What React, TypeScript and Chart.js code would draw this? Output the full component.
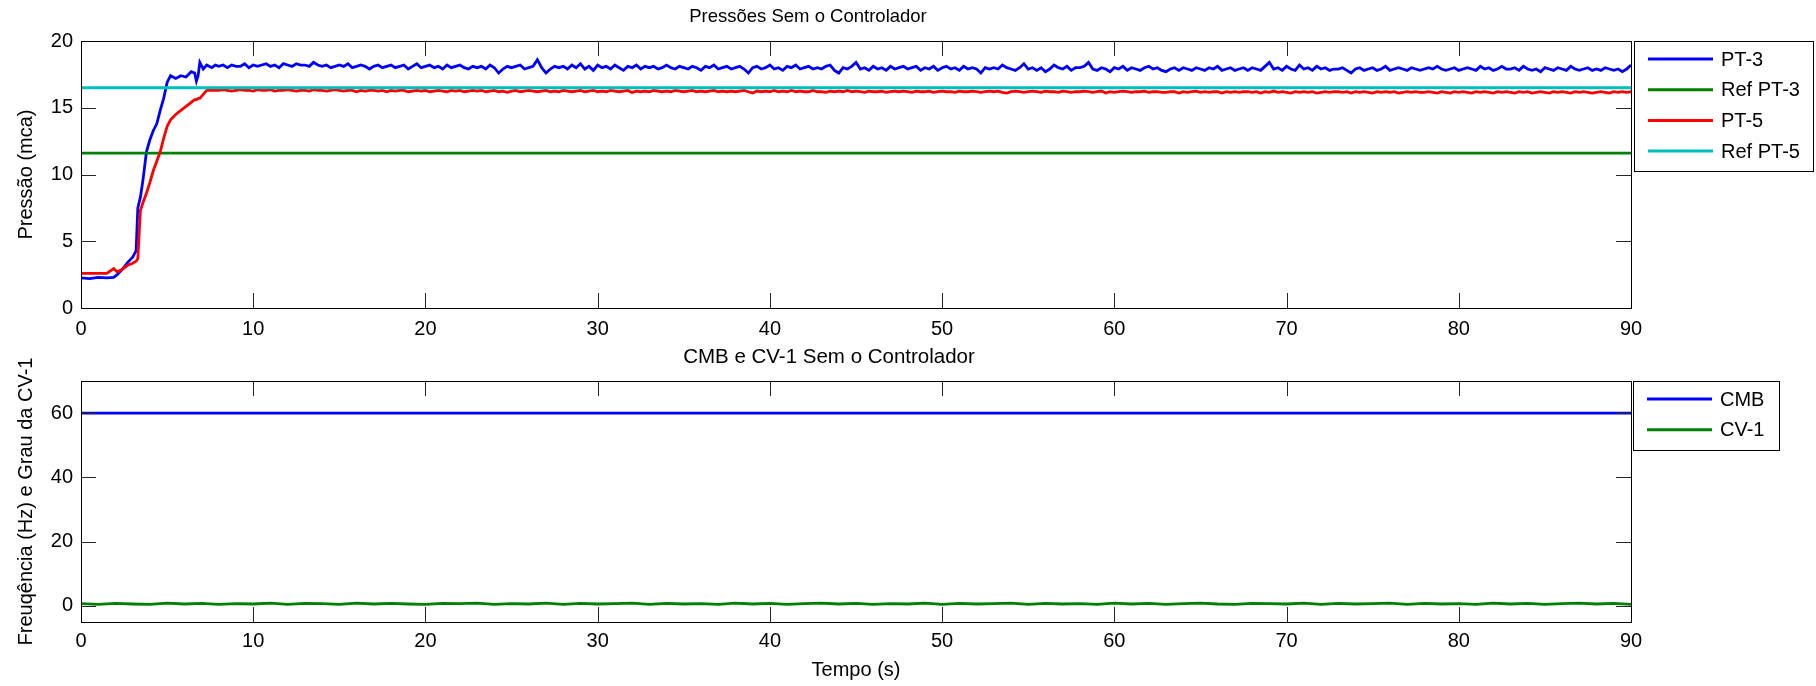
import React, { useEffect, useRef } from "react";
import { Chart, registerables } from "chart.js";

Chart.register(...registerables);

const FONT = '"Liberation Sans", Arial, Helvetica, sans-serif';

// ---------- Data ----------
const xTicks = [0, 10, 20, 30, 40, 50, 60, 70, 80, 90];
const yTicksTop = [0, 5, 10, 15, 20];
const yTicksBottom = [0, 20, 40, 60];

// Start-up transient (s)
const transientTime = [
  0, 0.5, 1.0, 1.5, 1.9, 2.1, 2.4, 2.7, 3.0, 3.2, 3.3, 3.45, 3.6, 3.8, 4.0, 4.2,
  4.4, 4.6, 4.8, 5.0, 5.2, 5.5, 5.8, 6.1, 6.4, 6.6, 6.7, 6.8, 6.9, 7.1, 7.3, 7.6, 7.8,
];
const pt3Transient = [
  2.25, 2.2, 2.3, 2.25, 2.3, 2.5, 2.9, 3.4, 3.8, 4.3, 7.5, 8.3, 9.6, 11.7, 12.6, 13.3,
  13.8, 14.8, 15.7, 16.9, 17.4, 17.2, 17.4, 17.3, 17.7, 17.6, 17.0, 17.4, 18.4, 17.9, 18.2, 18.0, 18.2,
];
const pt5Transient = [
  2.6, 2.6, 2.6, 2.6, 2.95, 2.7, 2.9, 3.2, 3.35, 3.5, 3.7, 7.3, 7.9, 8.6, 9.4, 10.3,
  11.0, 11.7, 12.7, 13.6, 14.1, 14.5, 14.8, 15.1, 15.4, 15.6, 15.6, 15.7, 15.7, 16.0, 16.3, 16.3, 16.3,
];

// Steady part: samples every 0.25 s from 8 s to 90 s
const steadyStart = 8;
const steadyStep = 0.25;
const pt3Steady = [
  18.1, 18.2, 18.0, 18.2, 18.1, 18.1, 18.3, 18.0, 18.2, 18.1, 18.2, 18.3, 18.1, 18.2, 18.0, 18.3, 18.2, 18.1, 18.3, 18.2,
  18.2, 18.1, 18.4, 18.2, 18.1, 18.2, 18.0, 18.1, 18.2, 18.1, 18.3, 18.0, 18.1, 18.2, 18.1, 17.9, 18.1, 18.2, 18.0, 18.1,
  18.2, 18.0, 18.1, 18.2, 17.9, 18.1, 18.3, 18.0, 18.1, 18.2, 18.0, 18.1, 17.9, 18.2, 18.0, 18.1, 18.2, 18.0, 17.9, 18.1,
  18.0, 18.1, 17.9, 18.2, 18.0, 17.6, 17.9, 18.1, 18.0, 18.1, 18.2, 17.9, 18.0, 18.1, 18.6, 18.0, 17.6, 17.9, 18.1, 18.0,
  18.1, 17.9, 18.2, 18.0, 18.3, 17.9, 18.1, 17.8, 18.2, 18.0, 18.1, 17.9, 18.2, 18.0, 17.8, 18.1, 18.0, 18.2, 17.9, 18.1,
  18.0, 18.1, 17.9, 18.0, 18.2, 18.0, 17.9, 18.1, 18.0, 17.9, 18.1, 18.0, 17.8, 18.1, 18.0, 18.2, 17.9, 18.0, 18.1, 17.9,
  18.0, 18.1, 17.9, 17.6, 18.0, 18.1, 17.9, 18.0, 18.2, 17.9, 18.0, 17.8, 18.1, 18.0, 18.2, 17.9, 18.0, 18.1, 17.9, 18.0,
  17.9, 18.1, 18.2, 17.8, 17.6, 18.0, 17.9, 18.1, 18.4, 17.9, 18.0, 17.8, 18.1, 17.9, 18.0, 17.8, 18.1, 17.9, 18.0, 18.1,
  17.9, 18.0, 18.1, 17.8, 18.0, 17.9, 18.1, 17.8, 18.0, 18.1, 17.9, 18.0, 17.8, 18.1, 17.9, 18.0, 17.9, 17.6, 18.0, 17.9,
  18.0, 17.9, 18.2, 18.0, 17.9, 17.8, 18.0, 18.3, 17.9, 18.0, 17.8, 18.0, 17.7, 17.9, 18.2, 18.0, 17.9, 18.1, 17.8, 18.0,
  18.0, 18.1, 18.4, 17.9, 17.8, 18.0, 17.9, 17.7, 18.0, 17.9, 18.1, 17.8, 18.0, 17.9, 17.8, 18.0, 18.1, 17.9, 18.0, 17.8,
  17.7, 17.9, 18.0, 17.8, 18.0, 17.9, 17.8, 18.0, 17.9, 17.8, 18.0, 17.9, 18.1, 17.8, 17.9, 18.0, 17.8, 17.9, 18.0, 17.8,
  18.0, 17.9, 17.8, 18.1, 18.4, 17.9, 18.0, 17.8, 18.1, 17.9, 17.8, 18.2, 17.9, 18.0, 17.8, 18.1, 17.9, 18.0, 17.8, 17.9,
  17.9, 18.0, 17.8, 17.6, 17.9, 18.0, 17.8, 17.9, 18.0, 17.8, 17.9, 18.1, 17.8, 17.9, 18.0, 17.9, 17.8, 18.0, 17.9, 17.8,
  17.9, 18.0, 17.9, 18.1, 17.9, 17.8, 17.9, 18.0, 17.8, 17.9, 18.0, 17.9, 17.8, 18.1, 17.9, 18.0, 17.8, 17.9, 18.1, 17.9,
  17.9, 18.0, 17.8, 18.1, 17.9, 17.8, 17.9, 17.7, 18.0, 17.9, 17.8, 18.0, 17.9, 17.8, 18.1, 17.9, 17.8, 17.9, 18.0, 17.8,
  17.9, 17.8, 18.0, 17.9, 17.8, 17.9, 17.7, 17.9, 18.2,
];
const pt5Steady = [
  16.3, 16.35, 16.3, 16.25, 16.3, 16.35, 16.3, 16.3, 16.25, 16.35, 16.3, 16.3, 16.35, 16.25, 16.3, 16.3, 16.35, 16.3, 16.25, 16.3,
  16.3, 16.25, 16.35, 16.3, 16.3, 16.25, 16.3, 16.35, 16.3, 16.25, 16.3, 16.3, 16.2, 16.3, 16.25, 16.3, 16.3, 16.25, 16.3, 16.2,
  16.3, 16.25, 16.3, 16.3, 16.2, 16.25, 16.3, 16.25, 16.3, 16.2, 16.25, 16.3, 16.25, 16.2, 16.3, 16.25, 16.3, 16.2, 16.25, 16.3,
  16.25, 16.3, 16.2, 16.25, 16.3, 16.2, 16.25, 16.15, 16.25, 16.3, 16.2, 16.25, 16.3, 16.25, 16.2, 16.25, 16.3, 16.2, 16.25, 16.2,
  16.3, 16.25, 16.2, 16.25, 16.3, 16.2, 16.25, 16.3, 16.2, 16.25, 16.2, 16.3, 16.25, 16.2, 16.25, 16.3, 16.15, 16.25, 16.2, 16.25,
  16.2, 16.3, 16.25, 16.2, 16.25, 16.2, 16.3, 16.25, 16.2, 16.25, 16.3, 16.2, 16.25, 16.2, 16.25, 16.3, 16.2, 16.25, 16.2, 16.25,
  16.2, 16.25, 16.3, 16.2, 16.1, 16.25, 16.2, 16.25, 16.2, 16.3, 16.2, 16.25, 16.2, 16.3, 16.2, 16.25, 16.2, 16.2, 16.3, 16.2,
  16.2, 16.15, 16.25, 16.2, 16.25, 16.2, 16.3, 16.2, 16.25, 16.2, 16.15, 16.25, 16.2, 16.2, 16.25, 16.15, 16.2, 16.25, 16.2, 16.25,
  16.2, 16.15, 16.25, 16.2, 16.2, 16.25, 16.15, 16.2, 16.25, 16.2, 16.2, 16.15, 16.25, 16.2, 16.2, 16.25, 16.2, 16.15, 16.2, 16.25,
  16.2, 16.25, 16.15, 16.1, 16.2, 16.25, 16.2, 16.15, 16.2, 16.25, 16.2, 16.15, 16.25, 16.2, 16.2, 16.15, 16.25, 16.2, 16.15, 16.2,
  16.2, 16.25, 16.2, 16.15, 16.2, 16.25, 16.1, 16.2, 16.15, 16.2, 16.25, 16.2, 16.15, 16.2, 16.2, 16.25, 16.15, 16.2, 16.2, 16.15,
  16.15, 16.2, 16.2, 16.1, 16.2, 16.15, 16.2, 16.25, 16.15, 16.2, 16.15, 16.2, 16.2, 16.1, 16.2, 16.15, 16.2, 16.15, 16.2, 16.2,
  16.15, 16.2, 16.1, 16.2, 16.15, 16.25, 16.15, 16.2, 16.15, 16.1, 16.2, 16.15, 16.2, 16.15, 16.2, 16.1, 16.15, 16.2, 16.15, 16.2,
  16.2, 16.15, 16.2, 16.1, 16.2, 16.15, 16.2, 16.15, 16.1, 16.2, 16.15, 16.2, 16.15, 16.2, 16.1, 16.15, 16.2, 16.15, 16.2, 16.15,
  16.15, 16.2, 16.15, 16.1, 16.2, 16.15, 16.1, 16.2, 16.15, 16.2, 16.15, 16.1, 16.2, 16.15, 16.2, 16.15, 16.1, 16.2, 16.15, 16.2,
  16.15, 16.1, 16.2, 16.15, 16.2, 16.1, 16.15, 16.2, 16.15, 16.1, 16.2, 16.15, 16.2, 16.15, 16.1, 16.2, 16.15, 16.2, 16.15, 16.1,
  16.15, 16.2, 16.15, 16.1, 16.2, 16.15, 16.2, 16.15, 16.2,
];

const refPT3 = 11.6;
const refPT5 = 16.5;
const cmbValue = 60;

// CV-1 opening, one sample per second from 0 s to 90 s
const cv1 = [
  0.7, 0.5, 0.8, 0.6, 0.5, 0.9, 0.6, 0.8, 0.5, 0.7,
  0.6, 0.9, 0.5, 0.8, 0.7, 0.5, 0.9, 0.6, 0.8, 0.6,
  0.5, 0.8, 0.7, 0.9, 0.5, 0.7, 0.6, 0.9, 0.5, 0.8,
  0.6, 0.7, 0.9, 0.5, 0.8, 0.6, 0.7, 0.5, 0.9, 0.6,
  0.8, 0.5, 0.7, 0.9, 0.6, 0.8, 0.5, 0.7, 0.6, 0.9,
  0.5, 0.8, 0.6, 0.7, 0.9, 0.5, 0.8, 0.6, 0.7, 0.5,
  0.9, 0.6, 0.8, 0.5, 0.7, 0.9, 0.6, 0.5, 0.8, 0.7,
  0.6, 0.9, 0.5, 0.8, 0.6, 0.7, 0.9, 0.5, 0.8, 0.6,
  0.7, 0.5, 0.9, 0.6, 0.8, 0.5, 0.7, 0.9, 0.6, 0.8,
  0.5,
];

const BLUE = "#0000FF";
const GREEN = "#008000";
const RED = "#FF0000";
const CYAN = "#00BFBF";

// ---------- helpers ----------
function series(times: number[], values: number[]) {
  return values.map((v, i) => ({ x: times[i], y: v }));
}
function steadySeries(values: number[]) {
  return values.map((v, i) => ({ x: steadyStart + i * steadyStep, y: v }));
}

const decorPlugin = {
  id: "matlabDecor",
  afterDatasetsDraw(chart: any, _args: any, opts: any) {
    const { ctx, chartArea: a, scales } = chart;
    const xs = scales.x;
    const ys = scales.y;
    const L = 15;
    ctx.save();
    ctx.lineWidth = 1;
    ctx.strokeStyle = "#262626";
    ctx.beginPath();
    for (const v of opts.xTicks) {
      const px = Math.round(xs.getPixelForValue(v)) + 0.5;
      ctx.moveTo(px, a.bottom);
      ctx.lineTo(px, a.bottom - L);
      ctx.moveTo(px, a.top);
      ctx.lineTo(px, a.top + L);
    }
    for (const v of opts.yTicks) {
      const py = Math.round(ys.getPixelForValue(v)) + 0.5;
      ctx.moveTo(a.left, py);
      ctx.lineTo(a.left + L, py);
      ctx.moveTo(a.right, py);
      ctx.lineTo(a.right - L, py);
    }
    ctx.stroke();
    ctx.strokeStyle = "#000";
    ctx.strokeRect(
      Math.round(a.left) + 0.5,
      Math.round(a.top) + 0.5,
      Math.round(a.right - a.left),
      Math.round(a.bottom - a.top)
    );
    ctx.restore();
  },
  afterDraw(chart: any, _args: any, opts: any) {
    const { ctx, chartArea: a } = chart;
    ctx.save();
    ctx.fillStyle = "#000";
    // title
    ctx.font = `${opts.titleSize}px ${FONT}`;
    ctx.textAlign = "center";
    ctx.textBaseline = "middle";
    ctx.fillText(opts.title, opts.titleX, opts.titleY);
    // y label
    ctx.font = `20px ${FONT}`;
    ctx.save();
    ctx.translate(opts.yLabelX, (a.top + a.bottom) / 2);
    ctx.rotate(-Math.PI / 2);
    ctx.fillText(opts.yLabel, 0, 0);
    ctx.restore();
    // x label
    if (opts.xLabel) {
      ctx.fillText(opts.xLabel, (a.left + a.right) / 2, opts.xLabelY);
    }
    // legend
    const lg = opts.legend;
    ctx.fillStyle = "#fff";
    ctx.fillRect(lg.x1, lg.y1, lg.x2 - lg.x1, lg.y2 - lg.y1);
    ctx.strokeStyle = "#000";
    ctx.lineWidth = 1;
    ctx.strokeRect(lg.x1 + 0.5, lg.y1 + 0.5, lg.x2 - lg.x1, lg.y2 - lg.y1);
    ctx.textAlign = "left";
    ctx.font = `20px ${FONT}`;
    chart.data.datasets.forEach((ds: any, i: number) => {
      const yy = lg.row0 + i * lg.rowGap;
      ctx.strokeStyle = ds.borderColor;
      ctx.lineWidth = 3;
      ctx.beginPath();
      ctx.moveTo(lg.lineX1, yy);
      ctx.lineTo(lg.lineX2, yy);
      ctx.stroke();
      ctx.fillStyle = "#000";
      ctx.fillText(ds.label, lg.textX, yy + 1);
    });
    ctx.restore();
  },
};

function baseOptions(
  yMin: number,
  yMax: number,
  yTicks: number[],
  xAxisHeight: number,
  xLabelPad: number,
  decor: any
) {
  return {
    responsive: false,
    animation: false as const,
    layout: { padding: { left: 0, top: 41, right: 185, bottom: 0 } },
    plugins: {
      legend: { display: false },
      title: { display: false },
      tooltip: { enabled: false },
      matlabDecor: decor,
    },
    elements: { point: { radius: 0 }, line: { tension: 0 } },
    scales: {
      x: {
        type: "linear" as const,
        min: 0,
        max: 90,
        grid: { display: false, drawTicks: false, tickLength: 0 },
        border: { display: false },
        afterBuildTicks: (scale: any) => {
          scale.ticks = xTicks.map((v) => ({ value: v }));
        },
        afterFit: (scale: any) => {
          scale.height = xAxisHeight;
        },
        ticks: {
          color: "#000",
          font: { family: FONT, size: 20 },
          padding: xLabelPad,
          maxRotation: 0,
          autoSkip: false,
        },
      },
      y: {
        type: "linear" as const,
        min: yMin,
        max: yMax,
        grid: { display: false, drawTicks: false, tickLength: 0 },
        border: { display: false },
        afterBuildTicks: (scale: any) => {
          scale.ticks = yTicks.map((v) => ({ value: v }));
        },
        afterFit: (scale: any) => {
          scale.width = 81;
        },
        ticks: {
          color: "#000",
          font: { family: FONT, size: 20 },
          padding: 8,
        },
      },
    },
  };
}

function PressureChart() {
  const ref = useRef<HTMLCanvasElement | null>(null);
  useEffect(() => {
    if (!ref.current) return;
    const pt3 = [...series(transientTime, pt3Transient), ...steadySeries(pt3Steady)];
    const pt5 = [...series(transientTime, pt5Transient), ...steadySeries(pt5Steady)];
    const chart = new Chart(ref.current, {
      type: "line",
      data: {
        datasets: [
          { label: "PT-3", data: pt3, borderColor: BLUE, borderWidth: 2.8, order: 3 },
          {
            label: "Ref PT-3",
            data: series([0, 90], [refPT3, refPT3]),
            borderColor: GREEN,
            borderWidth: 2.8,
            order: 2,
          },
          { label: "PT-5", data: pt5, borderColor: RED, borderWidth: 2.8, order: 1 },
          {
            label: "Ref PT-5",
            data: series([0, 90], [refPT5, refPT5]),
            borderColor: CYAN,
            borderWidth: 2.8,
            order: 0,
          },
        ],
      },
      options: baseOptions(0, 20, yTicksTop, 32, 9, {
        xTicks,
        yTicks: yTicksTop,
        title: "Pressões Sem o Controlador",
        titleSize: 18.5,
        titleX: 808,
        titleY: 17,
        yLabel: "Pressão (mca)",
        yLabelX: 26,
        xLabel: "",
        xLabelY: 0,
        legend: {
          x1: 1634,
          y1: 41,
          x2: 1813,
          y2: 171,
          row0: 59,
          rowGap: 30.7,
          lineX1: 1648,
          lineX2: 1713,
          textX: 1721,
        },
      }) as any,
      plugins: [decorPlugin],
    });
    return () => chart.destroy();
  }, []);
  return (
    <canvas
      ref={ref}
      width={1816}
      height={340}
      style={{ position: "absolute", left: 0, top: 0, width: 1816, height: 340 }}
    />
  );
}

function ActuatorChart() {
  const ref = useRef<HTMLCanvasElement | null>(null);
  useEffect(() => {
    if (!ref.current) return;
    const cvTimes = cv1.map((_, i) => i);
    const chart = new Chart(ref.current, {
      type: "line",
      data: {
        datasets: [
          {
            label: "CMB",
            data: series([0, 90], [cmbValue, cmbValue]),
            borderColor: BLUE,
            borderWidth: 2.8,
            order: 1,
          },
          {
            label: "CV-1",
            data: series(cvTimes, cv1),
            borderColor: GREEN,
            borderWidth: 2.8,
            order: 0,
          },
        ],
      },
      options: baseOptions(-5, 70, yTicksBottom, 64, 7, {
        xTicks,
        yTicks: yTicksBottom,
        title: "CMB e CV-1 Sem o Controlador",
        titleSize: 20.5,
        titleX: 829,
        titleY: 17,
        yLabel: "Freuqência (Hz) e Grau da CV-1",
        yLabelX: 26,
        xLabel: "Tempo (s)",
        xLabelY: 330,
        legend: {
          x1: 1633,
          y1: 41,
          x2: 1779,
          y2: 110,
          row0: 59,
          rowGap: 30.7,
          lineX1: 1647,
          lineX2: 1712,
          textX: 1720,
        },
      }) as any,
      plugins: [decorPlugin],
    });
    return () => chart.destroy();
  }, []);
  return (
    <canvas
      ref={ref}
      width={1816}
      height={346}
      style={{ position: "absolute", left: 0, top: 340, width: 1816, height: 346 }}
    />
  );
}

export default function App() {
  return (
    <div
      style={{
        position: "absolute",
        left: 0,
        top: 0,
        width: 1816,
        height: 686,
        background: "#fff",
        overflow: "hidden",
      }}
    >
      <PressureChart />
      <ActuatorChart />
    </div>
  );
}
